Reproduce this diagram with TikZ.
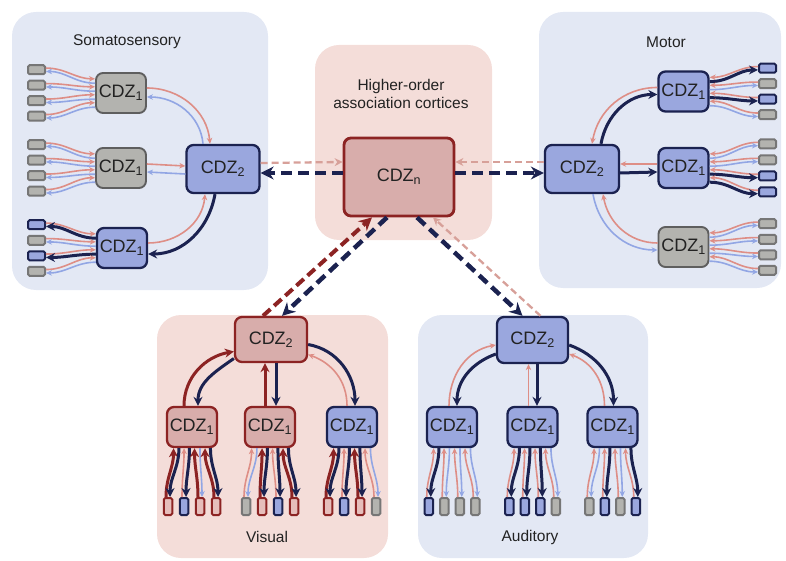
\documentclass[tikz,border=0pt]{standalone}
\usepackage{fontspec}
\setmainfont{Liberation Sans}
\usetikzlibrary{arrows.meta}
\definecolor{panelB}{HTML}{E3E8F4}
\definecolor{panelR}{HTML}{F4DDD9}
\definecolor{boxB}{HTML}{9AA7DE}
\definecolor{boxG}{HTML}{B3B3AF}
\definecolor{boxR}{HTML}{D8ADAB}
\definecolor{rectR}{HTML}{E6BEBB}
\definecolor{navy}{HTML}{1B2250}
\definecolor{gline}{HTML}{5E5E5E}
\definecolor{dred}{HTML}{8C2323}
\definecolor{pinkL}{HTML}{DE8E86}
\definecolor{blueL}{HTML}{92A6E4}
\definecolor{pinkD}{HTML}{D7A099}
\definecolor{txt}{HTML}{222222}
\tikzset{
 cdz/.style={rounded corners=7pt, line width=2.3pt, minimum width=50pt, minimum height=40pt, inner sep=0pt, font=\fontsize{18}{21}\selectfont, text=txt},
 cdzB/.style={cdz, fill=boxB, draw=navy},
 cdzG/.style={cdz, fill=boxG, draw=gline, line width=1.9pt},
 cdzR/.style={cdz, fill=boxR, draw=dred},
 sr/.style={rounded corners=1.5pt, line width=2pt, inner sep=0pt},
 hr/.style={sr, minimum width=17pt, minimum height=9pt},
 vr/.style={sr, minimum width=8.5pt, minimum height=17pt},
 bR/.style={fill=boxB, draw=navy},
 gR/.style={fill=boxG, draw=gline!85},
 rR/.style={fill=rectR, draw=dred},
 pinkA/.style={draw=pinkL, line width=1.6pt, -{Stealth[length=6pt,width=5.5pt]}},
 blueA/.style={draw=blueL, line width=1.6pt, -{Stealth[length=6pt,width=5.5pt]}},
 navyA/.style={draw=navy, line width=3pt, -{Stealth[length=9pt,width=9pt]}},
 redA/.style={draw=dred, line width=3pt, -{Stealth[length=9pt,width=9pt]}},
 navyD/.style={draw=navy, line width=4.5pt, dash pattern=on 11pt off 6pt, -{Stealth[length=13pt,width=13pt]}},
 redD/.style={draw=dred, line width=4pt, dash pattern=on 10pt off 5pt, -{Stealth[length=13pt,width=13pt]}},
 pinkDA/.style={draw=pinkD, line width=2.3pt, dash pattern=on 7pt off 4pt, -{Stealth[length=8pt,width=8pt]}},
 ttl/.style={font=\fontsize{15.5}{18}\selectfont, text=txt, align=center},
}
% rects to the left of a CDZ
\newcommand\SgroupL[4]{%
 \foreach \ff/\uu/\dd [count=\nn] in {#4} {
   \pgfmathsetmacro\ro{(2.5-\nn)*#3}
   \pgfmathsetmacro\bo{(2.5-\nn)*8}
   \node[hr,\ff] (#1r\nn) at ([xshift=#2pt,yshift=\ro pt]#1.center) {};
   \draw[\uu] ([yshift=1.7pt]#1r\nn.east) to[out=0,in=180] ([yshift=\bo pt+2.2pt]#1.west);
   \draw[\dd] ([yshift=\bo pt-2.2pt]#1.west) to[out=180,in=0] ([yshift=-1.7pt]#1r\nn.east);
 }}
% rects to the right of a CDZ
\newcommand\SgroupR[4]{%
 \foreach \ff/\uu/\dd [count=\nn] in {#4} {
   \pgfmathsetmacro\ro{(2.5-\nn)*#3}
   \pgfmathsetmacro\bo{(2.5-\nn)*8}
   \node[hr,\ff] (#1r\nn) at ([xshift=#2pt,yshift=\ro pt]#1.center) {};
   \draw[\uu] ([yshift=1.7pt]#1r\nn.west) to[out=180,in=0] ([yshift=\bo pt+2.2pt]#1.east);
   \draw[\dd] ([yshift=\bo pt-2.2pt]#1.east) to[out=0,in=180] ([yshift=-1.7pt]#1r\nn.west);
 }}
% rects below a CDZ
\newcommand\SgroupV[3]{%
 \foreach \ff/\uu/\dd [count=\nn] in {#3} {
   \pgfmathsetmacro\ro{(\nn-2.5)*#2}
   \pgfmathsetmacro\bo{(\nn-2.5)*10.5}
   \node[vr,\ff] (#1r\nn) at ([xshift=\ro pt,yshift=-79.5pt]#1.center) {};
   \draw[\uu] ([xshift=-2pt]#1r\nn.north) to[out=90,in=-90] ([xshift=\bo pt-2.7pt]#1.south);
   \draw[\dd] ([xshift=\bo pt+2.7pt]#1.south) to[out=-90,in=90] ([xshift=2pt]#1r\nn.north);
 }}
\begin{document}
\begin{tikzpicture}[x=1pt,y=-1pt]
\useasboundingbox (0,0) rectangle (786,561);
% panels
\fill[panelB, rounded corners=24pt] (12,12) rectangle (268,290);
\fill[panelB, rounded corners=24pt] (539,12) rectangle (781,288);
\fill[panelR, rounded corners=24pt] (315,45) rectangle (492,240);
\fill[panelR, rounded corners=24pt] (157,315) rectangle (388,558);
\fill[panelB, rounded corners=24pt] (418,315) rectangle (648,558);
% titles
\node[ttl] (tS) at (127,42) {Somatosensory};
\node[ttl] (tM) at (666,42) {Motor};
\node[ttl] (tH) at (401,94) {Higher-order\\association cortices};
\node[ttl] (tV) at (267,537) {Visual};
\node[ttl] (tA) at (530,537) {Auditory};
% CDZ nodes
\node[cdzG] (S1a) at (121,93) {CDZ\textsubscript{1}};
\node[cdzG] (S1b) at (121,168) {CDZ\textsubscript{1}};
\node[cdzB] (S1c) at (122,248) {CDZ\textsubscript{1}};
\node[cdzB, minimum width=73pt, minimum height=48pt] (S2) at (223,169) {CDZ\textsubscript{2}};
\node[cdzB, minimum width=74pt, minimum height=48pt] (M2) at (582,169) {CDZ\textsubscript{2}};
\node[cdzB] (M1a) at (683.5,91.5) {CDZ\textsubscript{1}};
\node[cdzB] (M1b) at (683.5,168) {CDZ\textsubscript{1}};
\node[cdzG] (M1c) at (683.5,247) {CDZ\textsubscript{1}};
\node[cdzR, minimum width=110pt, minimum height=78pt, line width=2.8pt] (Hn) at (399,177) {CDZ\textsubscript{n}};
\node[cdzR, minimum width=72pt, minimum height=45pt] (V2) at (271,339.5) {CDZ\textsubscript{2}};
\node[cdzR] (V1a) at (192,427) {CDZ\textsubscript{1}};
\node[cdzR] (V1b) at (270,427) {CDZ\textsubscript{1}};
\node[cdzB] (V1c) at (352,427) {CDZ\textsubscript{1}};
\node[cdzB, minimum width=71pt, minimum height=46pt] (A2) at (532.5,340) {CDZ\textsubscript{2}};
\node[cdzB] (A1a) at (452,427) {CDZ\textsubscript{1}};
\node[cdzB] (A1b) at (532.5,427) {CDZ\textsubscript{1}};
\node[cdzB] (A1c) at (612.5,427) {CDZ\textsubscript{1}};
% feature groups
\SgroupL{S1a}{-84.5}{15.5}{gR/pinkA/blueA, gR/pinkA/blueA, gR/pinkA/blueA, gR/pinkA/blueA}
\SgroupL{S1b}{-84.5}{15.5}{gR/pinkA/blueA, gR/pinkA/blueA, gR/pinkA/blueA, gR/pinkA/blueA}
\SgroupL{S1c}{-85.5}{15.5}{bR/pinkA/navyA, gR/pinkA/blueA, bR/pinkA/navyA, gR/pinkA/blueA}
\SgroupR{M1a}{84}{15.5}{bR/pinkA/navyA, gR/pinkA/blueA, bR/pinkA/navyA, gR/pinkA/blueA}
\SgroupR{M1b}{84}{16}{gR/pinkA/blueA, gR/pinkA/blueA, bR/pinkA/navyA, bR/pinkA/navyA}
\SgroupR{M1c}{84}{15.5}{gR/pinkA/blueA, gR/pinkA/blueA, gR/pinkA/blueA, gR/pinkA/blueA}
\SgroupV{V1a}{16}{rR/redA/navyA, bR/pinkA/navyA, rR/redA/blueA, rR/redA/navyA}
\SgroupV{V1b}{16}{gR/pinkA/blueA, rR/redA/navyA, bR/pinkA/navyA, rR/redA/navyA}
\SgroupV{V1c}{16}{rR/redA/navyA, bR/pinkA/navyA, rR/redA/navyA, gR/pinkA/blueA}
\SgroupV{A1a}{15.5}{bR/pinkA/navyA, gR/pinkA/blueA, gR/pinkA/blueA, gR/pinkA/blueA}
\SgroupV{A1b}{15.5}{bR/pinkA/navyA, bR/pinkA/navyA, bR/pinkA/navyA, gR/pinkA/blueA}
\SgroupV{A1c}{15.5}{gR/pinkA/blueA, bR/pinkA/navyA, gR/pinkA/blueA, bR/pinkA/navyA}
% Somatosensory CDZ1 <-> CDZ2
\draw[pinkA] ([yshift=5pt]S1a.east) to[out=0,in=95] ([xshift=-13pt]S2.north);
\draw[blueA] ([xshift=-20pt]S2.north) to[out=95,in=0] ([yshift=-4pt]S1a.east);
\draw[pinkA] ([yshift=4pt]S1b.east) -- ([yshift=3pt]S2.west);
\draw[blueA] ([yshift=-5pt]S2.west) -- ([yshift=-4pt]S1b.east);
\draw[pinkA] ([yshift=5pt]S1c.east) to[out=0,in=-95] ([xshift=-18pt]S2.south);
\draw[navyA] ([xshift=-8pt]S2.south) to[out=-100,in=0] ([yshift=-6pt]S1c.east);
% Motor CDZ2 <-> CDZ1
\draw[navyA] ([xshift=19pt]M2.north) to[out=80,in=180] ([yshift=-3pt]M1a.west);
\draw[pinkA] ([yshift=4pt]M1a.west) to[out=180,in=80] ([xshift=10pt]M2.north);
\draw[pinkA] ([yshift=4pt]M1b.west) -- ([yshift=5pt]M2.east);
\draw[navyA] ([yshift=-4pt]M2.east) -- ([yshift=-4pt]M1b.west);
\draw[blueA] ([xshift=11pt]M2.south) to[out=-80,in=180] ([yshift=-3pt]M1c.west);
\draw[pinkA] ([yshift=4pt]M1c.west) to[out=180,in=-80] ([xshift=21pt]M2.south);
% Visual CDZ2 <-> CDZ1
\draw[redA] ([xshift=-8pt]V1a.north) to[out=90,in=190] ([yshift=-12pt]V2.west);
\draw[navyA] ([yshift=-19pt]V2.west) to[out=215,in=90] ([xshift=6pt]V1a.north);
\draw[redA] ([xshift=-5pt]V1b.north) -- ([xshift=-6pt]V2.south);
\draw[navyA] ([xshift=5pt]V2.south) -- ([xshift=6pt]V1b.north);
\draw[navyA] ([yshift=-5pt]V2.east) to[out=-10,in=90] ([xshift=3pt]V1c.north);
\draw[pinkA] ([xshift=-5pt]V1c.north) to[out=90,in=-20] ([yshift=-15pt]V2.east);
% Auditory CDZ2 <-> CDZ1
\draw[pinkA] ([xshift=-3pt]A1a.north) to[out=90,in=190] ([yshift=-5pt]A2.west);
\draw[navyA] ([yshift=-14pt]A2.west) to[out=200,in=90] ([xshift=5pt]A1a.north);
\draw[pinkA] ([xshift=-4pt]A1b.north) -- ([xshift=-4pt]A2.south);
\draw[navyA] ([xshift=4.5pt]A2.south) -- ([xshift=4.5pt]A1b.north);
\draw[navyA] ([yshift=-5pt]A2.east) to[out=-20,in=90] ([xshift=1pt]A1c.north);
\draw[pinkA] ([xshift=-8pt]A1c.north) to[out=90,in=-20] ([yshift=-14pt]A2.east);
% dashed long-range links
\draw[pinkDA] ([yshift=6pt]S2.east) -- ([yshift=15pt]Hn.west);
\draw[navyD] ([yshift=4pt]Hn.west) -- ([yshift=-4pt]S2.east);
\draw[pinkDA] ([yshift=7pt]M2.west) -- ([yshift=15pt]Hn.east);
\draw[navyD] ([yshift=4pt]Hn.east) -- ([yshift=-4pt]M2.west);
\draw[redD] ([xshift=-8pt]V2.north) -- ([xshift=-27pt]Hn.south);
\draw[navyD] ([xshift=-12pt]Hn.south) -- ([xshift=11pt]V2.north);
\draw[navyD] ([xshift=18pt]Hn.south) -- ([xshift=-10pt]A2.north);
\draw[pinkDA] ([xshift=8pt]A2.north) -- ([xshift=34pt]Hn.south);
\end{tikzpicture}
\end{document}
